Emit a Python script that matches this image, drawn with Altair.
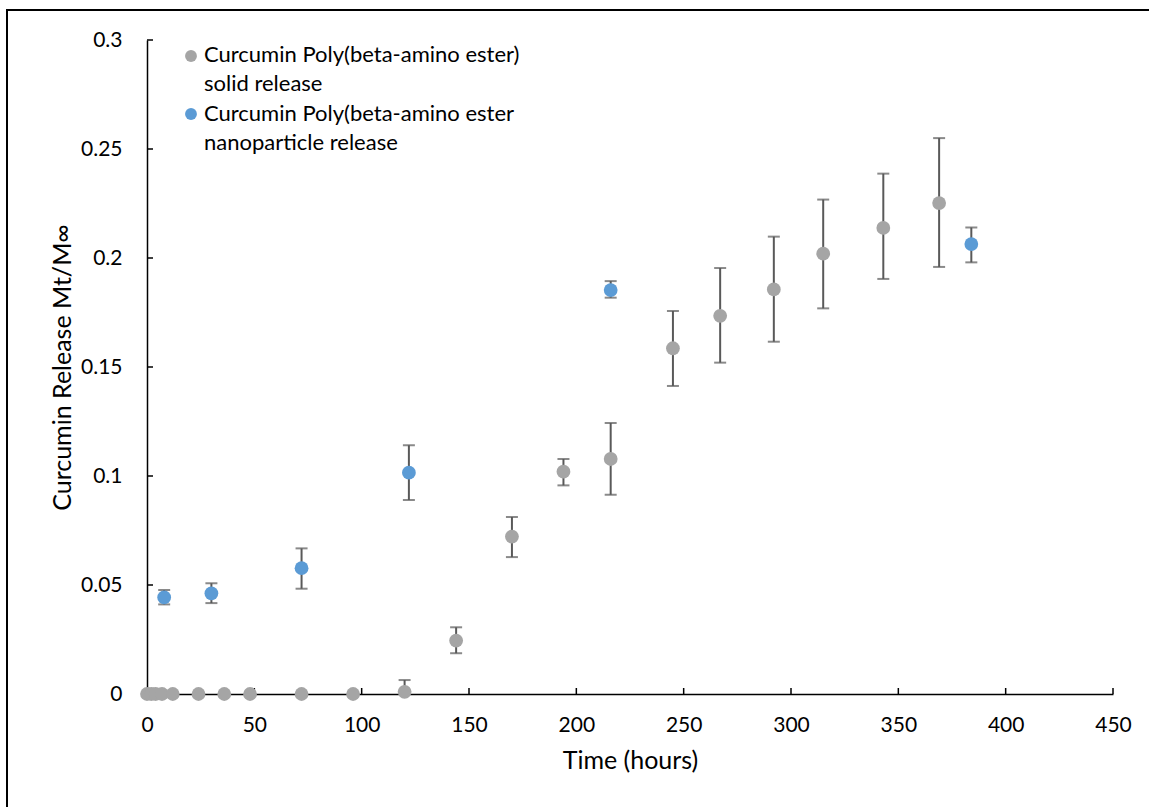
import altair as alt
import pandas as pd

# Curcumin poly(beta-amino ester) solid release (grey series)
solid_time = [0, 2, 4, 7, 12, 24, 36, 48, 72, 96, 120, 144, 170, 194, 216, 245, 267, 292, 315, 343, 369]
solid_mean = [0, 0, 0, 0, 0, 0, 0, 0, 0, 0, 0.001, 0.0245, 0.0722, 0.102, 0.1078,
              0.1586, 0.1735, 0.1856, 0.202, 0.2138, 0.2252]
solid_upper = [0, 0, 0, 0, 0, 0, 0, 0, 0, 0, 0.0064, 0.0306, 0.0812, 0.1078, 0.1243,
               0.1757, 0.1954, 0.2098, 0.2268, 0.2387, 0.255]
solid_lower = [0, 0, 0, 0, 0, 0, 0, 0, 0, 0, -0.0044, 0.0187, 0.0628, 0.0957, 0.0914,
               0.1413, 0.152, 0.1616, 0.1769, 0.1904, 0.1959]

# Curcumin poly(beta-amino ester) nanoparticle release (blue series)
nano_time = [8, 30, 72, 122, 216, 384]
nano_mean = [0.0443, 0.0462, 0.0577, 0.1015, 0.1853, 0.2064]
nano_upper = [0.0477, 0.0508, 0.0668, 0.1141, 0.1894, 0.214]
nano_lower = [0.0411, 0.0417, 0.0483, 0.089, 0.1818, 0.198]

series_names = ["solid", "nanoparticle"]
series_colors = ["#A5A5A5", "#5B9BD5"]
legend_lines = [
    ["Curcumin Poly(beta-amino ester)", "solid release"],
    ["Curcumin Poly(beta-amino ester", "nanoparticle release"],
]

x_ticks = [0, 50, 100, 150, 200, 250, 300, 350, 400, 450]
y_ticks = [0, 0.05, 0.1, 0.15, 0.2, 0.25, 0.3]

x_title = "Time (hours)"
y_title = "Curcumin Release Mt/M\u221e"

FONT = "Lato"
FS = 21
TITLE_FS = 25
W, H = 966, 654
BAR = "#595959"

df = pd.concat([
    pd.DataFrame({"time": solid_time, "mean": solid_mean, "upper": solid_upper,
                  "lower": solid_lower, "series": series_names[0]}),
    pd.DataFrame({"time": nano_time, "mean": nano_mean, "upper": nano_upper,
                  "lower": nano_lower, "series": series_names[1]}),
], ignore_index=True)

xscale = alt.Scale(domain=[0, 450], nice=False, zero=False)
yscale = alt.Scale(domain=[0, 0.3], nice=False, zero=False)
cscale = alt.Scale(domain=series_names, range=series_colors)

# identical axis definitions on every layer so the merged axes stay intact
x_axis = alt.Axis(
    title=x_title, values=x_ticks, format="d", ticks=False, tickSize=0,
    labelPadding=20, labelFlush=False, labelOverlap=False,
    titleBaseline="alphabetic", titleY=74,
)
y_axis = alt.Axis(
    title=y_title, values=y_ticks, format="~g", ticks=False, tickSize=0,
    labelPadding=25, labelFlush=False, labelOverlap=False,
    titleAngle=270, titleX=-77, titleBaseline="alphabetic",
)


def X(field):
    return alt.X(field, scale=xscale, axis=x_axis)


def Y(field):
    return alt.Y(field, scale=yscale, axis=y_axis)


base = alt.Chart(df)

# outer frame of the chart area
frame = alt.Chart(pd.DataFrame({"k": [0]})).mark_rect(
    filled=False, stroke="black", strokeWidth=2
).encode(x=alt.value(-140), y=alt.value(-30), x2=alt.value(W + 200), y2=alt.value(H + 200))

# inward tick marks on both axes
xtick_layer = alt.Chart(pd.DataFrame({"t": x_ticks})).mark_rule(
    color="black", strokeWidth=1.5
).encode(x=X("t:Q"), y=alt.value(H - 6), y2=alt.value(H))

ytick_layer = alt.Chart(pd.DataFrame({"t": y_ticks})).mark_rule(
    color="black", strokeWidth=1.5
).encode(y=Y("t:Q"), x=alt.value(0), x2=alt.value(6))

layers = [frame, xtick_layer, ytick_layer]

for name in series_names:
    sub = base.transform_filter(alt.datum.series == name)
    err = sub.mark_rule(color=BAR, strokeWidth=2, clip=True).encode(
        x=X("time:Q"), y=Y("lower:Q"), y2="upper:Q",
    )
    cap_hi = sub.mark_tick(orient="horizontal", color=BAR, size=12, thickness=2, clip=True).encode(
        x=X("time:Q"), y=Y("upper:Q"),
    )
    cap_lo = sub.mark_tick(orient="horizontal", color=BAR, size=12, thickness=2, clip=True).encode(
        x=X("time:Q"), y=Y("lower:Q"),
    )
    pts = sub.mark_point(filled=True, opacity=1, size=190, strokeWidth=0).encode(
        x=X("time:Q"), y=Y("mean:Q"),
        color=alt.Color("series:N", scale=cscale, legend=None),
    )
    layers += [err, cap_hi, cap_lo, pts]

# legend in the upper-left corner of the plot
one = pd.DataFrame({"k": [0]})
legend_y = [16, 74]
text_y = [22, 81]
for i in range(2):
    layers.append(
        alt.Chart(one).mark_point(filled=True, opacity=1, size=140, strokeWidth=0,
                                  color=series_colors[i]).encode(
            x=alt.value(44), y=alt.value(legend_y[i]))
    )
    layers.append(
        alt.Chart(one).mark_text(align="left", baseline="alphabetic", font=FONT,
                                 fontSize=22, lineHeight=29, color="black").encode(
            x=alt.value(57), y=alt.value(text_y[i]), text=alt.value(legend_lines[i]))
    )

chart = alt.layer(*layers).properties(
    width=W, height=H,
    autosize=alt.AutoSizeParams(type="none"),
    padding={"left": 147, "top": 40, "right": 36, "bottom": 113},
    background="white",
).configure_view(stroke=None).configure_axis(
    grid=False, domainColor="black", domainWidth=1.5,
    labelFont=FONT, labelFontSize=FS, labelColor="black",
    titleFont=FONT, titleFontSize=TITLE_FS, titleColor="black", titleFontWeight="normal",
)

chart.save("out.html", embed_options={"renderer": "svg", "actions": False})
